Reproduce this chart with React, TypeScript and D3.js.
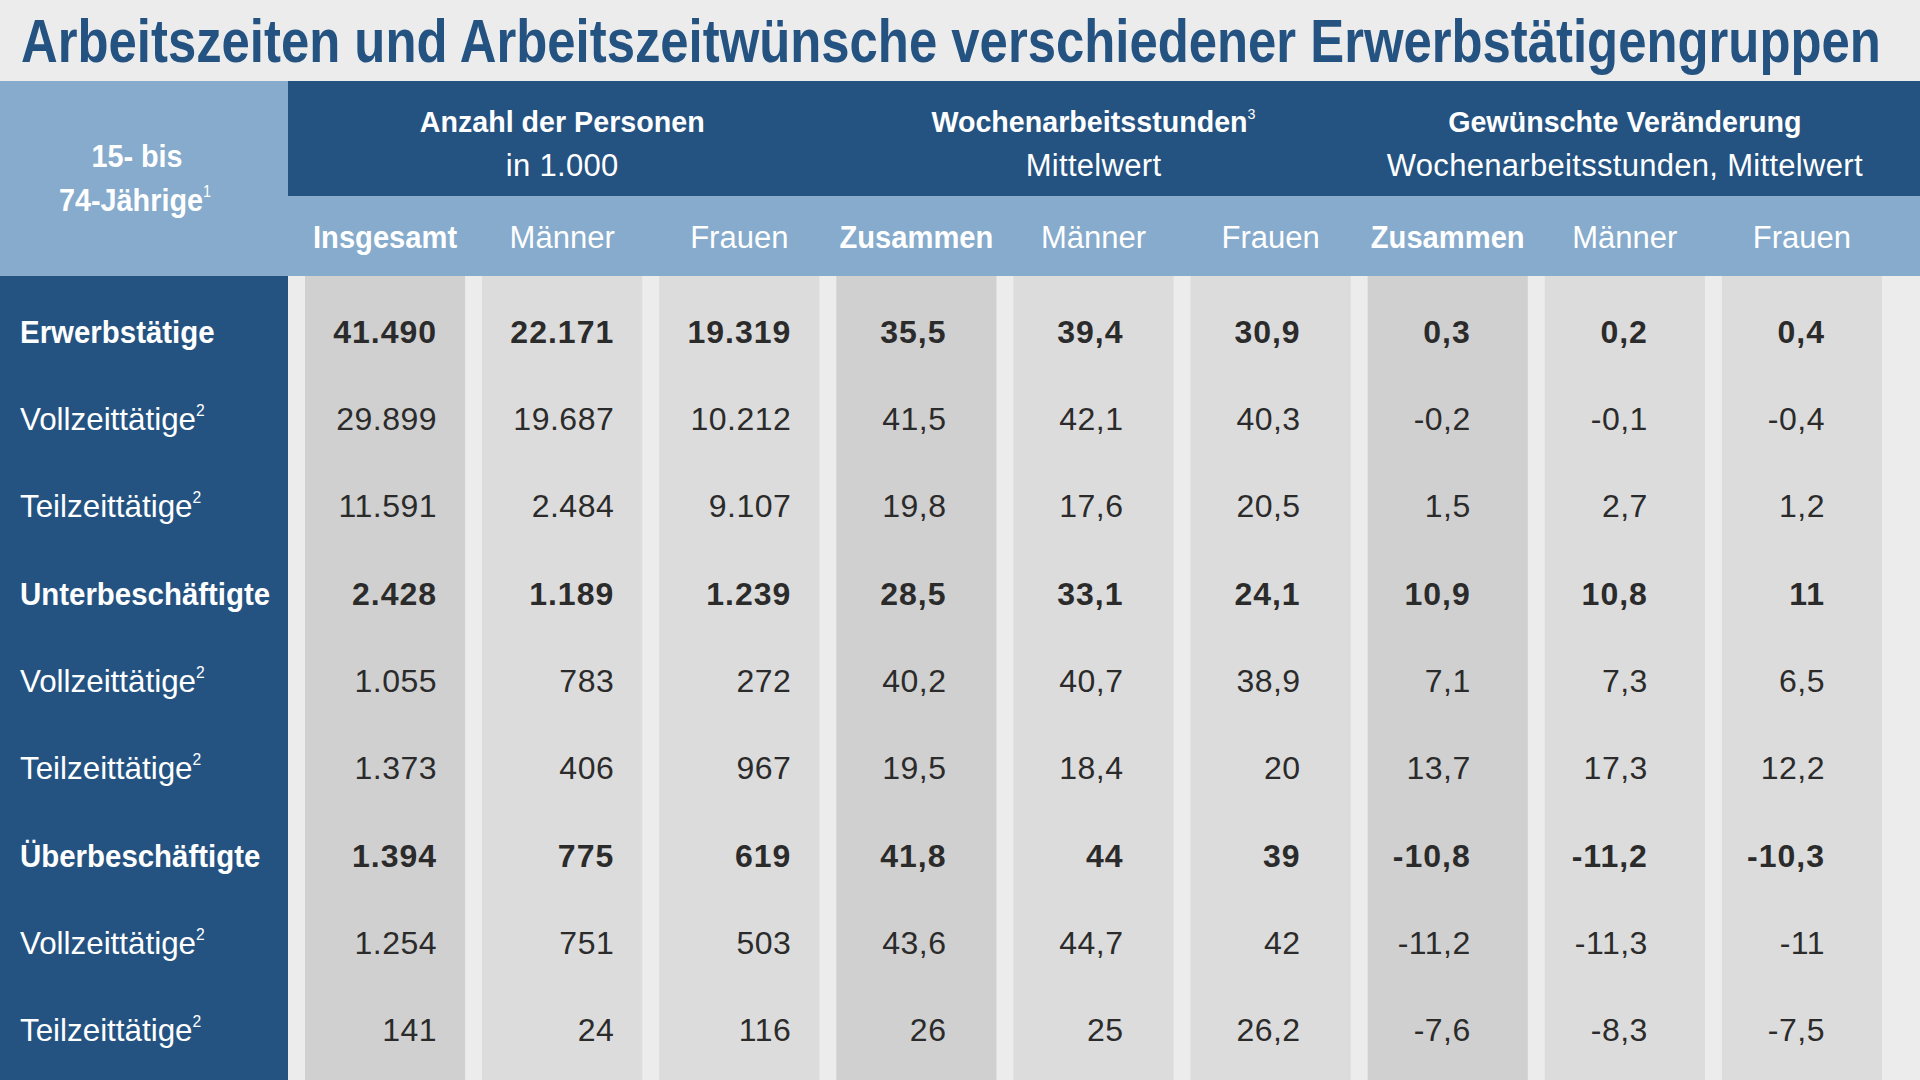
import React, { useLayoutEffect, useRef, useState } from "react";
import * as d3 from "d3";

const title = "Arbeitszeiten und Arbeitszeitwünsche verschiedener Erwerbstätigengruppen";
const cornerLines = ["15- bis", "74-Jährige"];
const cornerSup = "1";

const groupTitles = ["Anzahl der Personen", "Wochenarbeitsstunden", "Gewünschte Veränderung"];
const groupTitleSup = ["", "3", ""];
const groupSubtitles = ["in 1.000", "Mittelwert", "Wochenarbeitsstunden, Mittelwert"];

const columns = ["Insgesamt", "Männer", "Frauen", "Zusammen", "Männer", "Frauen", "Zusammen", "Männer", "Frauen"];
const columnBold = [true, false, false, true, false, false, true, false, false];
const columnGroup = [0, 0, 0, 1, 1, 1, 2, 2, 2];

const rowLabels = [
  "Erwerbstätige", "Vollzeittätige", "Teilzeittätige",
  "Unterbeschäftigte", "Vollzeittätige", "Teilzeittätige",
  "Überbeschäftigte", "Vollzeittätige", "Teilzeittätige",
];
const rowSup = ["", "2", "2", "", "2", "2", "", "2", "2"];
const rowBold = [true, false, false, true, false, false, true, false, false];

const personenInsgesamt = [41490, 29899, 11591, 2428, 1055, 1373, 1394, 1254, 141];
const personenMaenner = [22171, 19687, 2484, 1189, 783, 406, 775, 751, 24];
const personenFrauen = [19319, 10212, 9107, 1239, 272, 967, 619, 503, 116];
const stundenZusammen = [35.5, 41.5, 19.8, 28.5, 40.2, 19.5, 41.8, 43.6, 26];
const stundenMaenner = [39.4, 42.1, 17.6, 33.1, 40.7, 18.4, 44, 44.7, 25];
const stundenFrauen = [30.9, 40.3, 20.5, 24.1, 38.9, 20, 39, 42, 26.2];
const veraenderungZusammen = [0.3, -0.2, 1.5, 10.9, 7.1, 13.7, -10.8, -11.2, -7.6];
const veraenderungMaenner = [0.2, -0.1, 2.7, 10.8, 7.3, 17.3, -11.2, -11.3, -8.3];
const veraenderungFrauen = [0.4, -0.4, 1.2, 11, 6.5, 12.2, -10.3, -11, -7.5];

const columnValues = [
  personenInsgesamt, personenMaenner, personenFrauen,
  stundenZusammen, stundenMaenner, stundenFrauen,
  veraenderungZusammen, veraenderungMaenner, veraenderungFrauen,
];

const W = 1920;
const H = 1080;
const DARK = "#245382";
const LIGHT = "#86abcc";
const BG = "#ececec";
const STRIPE_DARK = "#d0d0d0";
const STRIPE = "#dcdcdc";
const TEXT = "#2b2b2b";
const FONT = "'Liberation Sans', Arial, sans-serif";
const NARROW = "'Liberation Sans Narrow', 'Liberation Sans', Arial, sans-serif";

const de = d3.formatLocale({ decimal: ",", thousands: ".", grouping: [3], currency: ["", " €"], minus: "-" });
const fmtCount = de.format(",d");
const fmtDec = de.format(".1~f");

export default function App() {
  const titleRef = useRef<SVGTextElement>(null);
  const [titleScale, setTitleScale] = useState(0.75);
  const titleWidth = 1860;

  useLayoutEffect(() => {
    if (titleRef.current) {
      const len = titleRef.current.getComputedTextLength();
      if (len > 0) setTitleScale(titleWidth / len);
    }
  }, []);

  const x = d3.scaleBand<number>().domain(d3.range(columns.length)).range([305, 1882]).paddingInner(0.096).paddingOuter(0);
  const y = d3.scaleBand<number>().domain(d3.range(rowLabels.length)).range([287.5, 1073.5]);
  const rightPad = [28, 50, 57];
  const headerTop = 81;
  const headerMid = 196;
  const bodyTop = 276;
  const labelRight = 288;

  const groupCenter = (g: number) => {
    const cols = d3.range(columns.length).filter((i) => columnGroup[i] === g);
    const a = x(cols[0])!;
    const b = x(cols[cols.length - 1])! + x.bandwidth();
    return (a + b) / 2;
  };

  return (
    <svg width={W} height={H} style={{ position: "absolute", left: 0, top: 0, display: "block" }}>
      <rect x={0} y={0} width={W} height={H} fill={BG} />
      <text ref={titleRef} transform={`translate(21,62) scale(${titleScale},1)`} fill={DARK} fontFamily={NARROW}
        fontWeight="bold" fontSize={61}>{title}</text>

      {/* header blocks */}
      <rect x={0} y={headerTop} width={labelRight} height={bodyTop - headerTop} fill={LIGHT} />
      <rect x={labelRight} y={headerTop} width={W - labelRight} height={headerMid - headerTop} fill={DARK} />
      <rect x={labelRight} y={headerMid} width={W - labelRight} height={bodyTop - headerMid} fill={LIGHT} />
      <rect x={0} y={bodyTop} width={labelRight} height={H - bodyTop} fill={DARK} />

      {/* corner label */}
      <text transform="translate(137,167) scale(0.9,1)" textAnchor="middle" fill="#fff" fontFamily={FONT} fontWeight="bold" fontSize={32}>{cornerLines[0]}</text>
      <text transform="translate(135,211) scale(0.9,1)" textAnchor="middle" fill="#fff" fontFamily={FONT} fontWeight="bold" fontSize={32}>
        {cornerLines[1]}
        <tspan fontSize={16} dy={-14} fontWeight="normal">{cornerSup}</tspan>
      </text>

      {/* group titles */}
      {groupTitles.map((t, g) => (
        <g key={"g" + g}>
          <text transform={`translate(${groupCenter(g)},132) scale(0.955,1)`} textAnchor="middle" fill="#fff" fontFamily={FONT} fontWeight="bold" fontSize={30}>
            {t}
            {groupTitleSup[g] && <tspan fontSize={15} dy={-13} fontWeight="normal">{groupTitleSup[g]}</tspan>}
          </text>
          <text x={groupCenter(g)} y={176} textAnchor="middle" fill="#fff" fontFamily={FONT} fontSize={31} letterSpacing={0.3}>{groupSubtitles[g]}</text>
        </g>
      ))}

      {/* column stripes */}
      {columns.map((c, i) => (
        <rect key={"s" + i} x={x(i)} y={bodyTop} width={x.bandwidth()} height={H - bodyTop}
          fill={columnBold[i] ? STRIPE_DARK : STRIPE} />
      ))}

      {/* column headers */}
      {columns.map((c, i) => (
        <text key={"h" + i} transform={`translate(${x(i)! + x.bandwidth() / 2},248) scale(${columnBold[i] ? 0.94 : 1},1)`}
          textAnchor="middle" fill="#fff"
          fontFamily={FONT} fontWeight={columnBold[i] ? "bold" : "normal"} fontSize={31}>{c}</text>
      ))}

      {/* rows */}
      {rowLabels.map((r, ri) => {
        const cy = y(ri)! + y.bandwidth() / 2;
        return (
          <g key={"r" + ri}>
            <text transform={`translate(20,${cy + 11.5}) scale(${rowBold[ri] ? 0.92 : 0.98},1)`} fill="#fff" fontFamily={FONT}
              fontWeight={rowBold[ri] ? "bold" : "normal"} fontSize={32}>
              {r}
              {rowSup[ri] && <tspan fontSize={16} dy={-14} fontWeight="normal">{rowSup[ri]}</tspan>}
            </text>
            {columnValues.map((vals, ci) => {
              const v = vals[ri];
              const s = columnGroup[ci] === 0 ? fmtCount(v) : fmtDec(v);
              return (
                <text key={"v" + ci} x={x(ci)! + x.bandwidth() - rightPad[columnGroup[ci]]} y={cy + 11.5}
                  textAnchor="end" fill={TEXT} fontFamily={FONT} fontWeight={rowBold[ri] ? "bold" : "normal"}
                  fontSize={32} letterSpacing={rowBold[ri] ? 1 : 0.5}>{s}</text>
              );
            })}
          </g>
        );
      })}
    </svg>
  );
}
